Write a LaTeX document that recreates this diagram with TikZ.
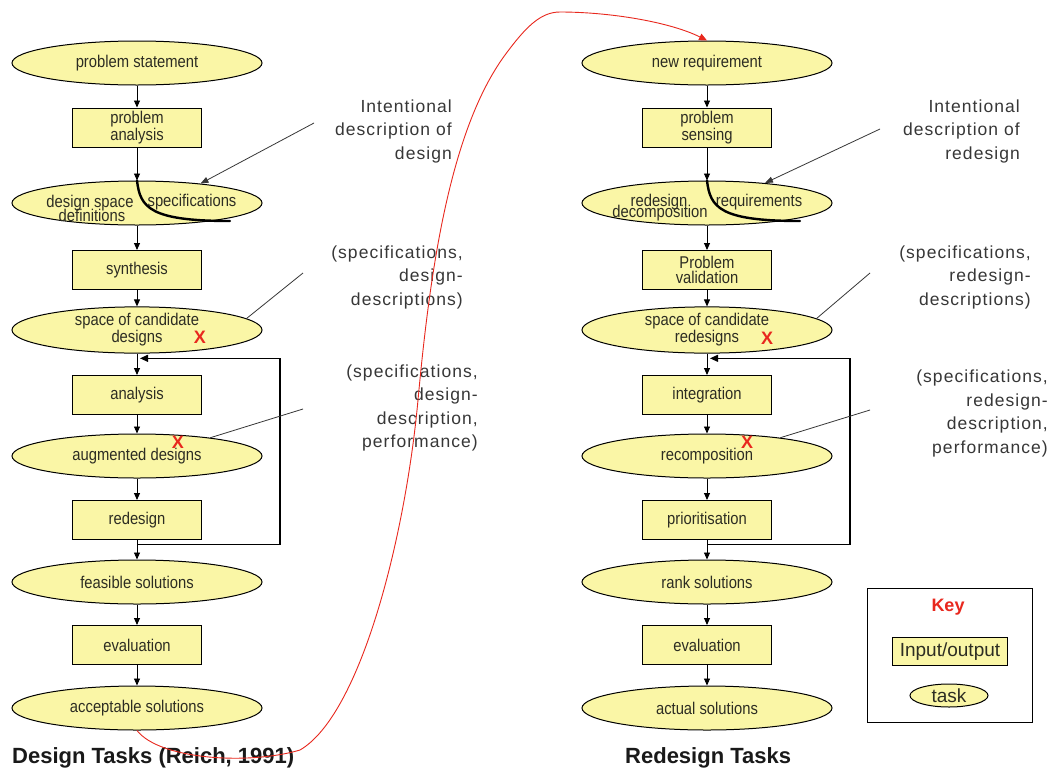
\documentclass[tikz,border=0pt]{standalone}
\usepackage{fontspec}
\setmainfont{Liberation Sans}
\newfontfamily\nodefont[FakeStretch=0.87]{Liberation Sans}
\newfontfamily\notefont[LetterSpace=6]{Liberation Sans}
\usetikzlibrary{shapes.geometric,arrows.meta,calc}
\definecolor{boxfill}{RGB}{250,246,166}
\definecolor{inktext}{RGB}{45,45,35}
\definecolor{notegray}{RGB}{55,55,55}
\definecolor{markred}{RGB}{232,40,30}

\begin{document}
\begin{tikzpicture}[x=1pt,y=-1pt,
  task/.style={ellipse, draw=black, line width=1pt, fill=boxfill,
    minimum width=250pt, minimum height=44pt, inner sep=0pt, text=inktext,
    font=\nodefont\fontsize{17}{15}\selectfont, align=center},
  io/.style={rectangle, draw=black, line width=1pt, fill=boxfill,
    minimum width=129pt, minimum height=39pt, inner sep=0pt, text=inktext,
    font=\nodefont\fontsize{17}{15}\selectfont, align=center},
  flow/.style={-{Triangle[length=7pt,width=6pt]}, line width=0.9pt, black},
  loopline/.style={-{Triangle[length=8pt,width=7pt]}, line width=1.1pt, black},
  note/.style={anchor=north east, align=right, inner sep=0pt, text=notegray,
    font=\notefont\fontsize{17.5}{23.5}\selectfont},
  pointer/.style={line width=0.8pt, notegray},
  cross/.style={text=markred, font=\bfseries\fontsize{18}{18}\selectfont, inner sep=0pt},
  lbl/.style={inner sep=0pt, text=inktext, font=\nodefont\fontsize{17}{15}\selectfont},
  title/.style={anchor=west, inner sep=0pt, font=\bfseries\fontsize{22}{26}\selectfont, text=black!90},
  thickflow/.style={line width=2.4pt, black, line cap=round}
]
\fill[white] (0,0) rectangle (1052,774);
\useasboundingbox (0,0) rectangle (1052,774);

% ---- design tasks (left column)
\node[task] (ps)   at (137,63)    {problem statement};
\node[io]   (pa)   at (137,127.5) {problem\\analysis};
\node[task] (ds)   at (137,203)   {};
\node[io]   (syn)  at (137,270)   {synthesis};
\node[task, font=\nodefont\fontsize{17}{14}\selectfont] (cand) at (137,330) {space of candidate\\designs};
\node[io]   (an)   at (137,395)   {analysis};
\node[task] (aug)  at (137,456)   {augmented designs};
\node[io]   (rd)   at (137,520)   {redesign};
\node[task] (feas) at (137,582)   {feasible solutions};
\node[io]   (ev)   at (137,645)   {evaluation};
\node[task] (acc)  at (137,708)   {acceptable solutions};

\node[lbl] (dsa) at ($(ds)+(-47,0)$)  {design space};
\node[lbl] (dsb) at ($(ds)+(-45,12)$) {definitions};
\node[lbl] (dsc) at ($(ds)+(55,-1)$)  {specifications};

% ---- redesign tasks (right column)
\node[task] (nr)    at (707,63)    {new requirement};
\node[io]   (sens)  at (707,127.5) {problem\\sensing};
\node[task] (rdc)   at (707,203)   {};
\node[io]   (val)   at (707,270)   {Problem\\validation};
\node[task, font=\nodefont\fontsize{17}{14}\selectfont] (rcand) at (707,330) {space of candidate\\redesigns};
\node[io]   (integ) at (707,395)   {integration};
\node[task] (rec)   at (707,456)   {recomposition};
\node[io]   (prio)  at (707,520)   {prioritisation};
\node[task] (rank)  at (707,582)   {rank solutions};
\node[io]   (rev)   at (707,645)   {evaluation};
\node[task] (act)   at (707,708)   {actual solutions};

\node[lbl] (rda) at ($(rdc)+(-48,-1)$) {redesign};
\node[lbl] (rdb) at ($(rdc)+(-47,10)$) {decomposition};
\node[lbl] (rdd) at ($(rdc)+(52,-1)$)  {requirements};

% ---- vertical flow arrows
\foreach \a/\b in {ps/pa, pa/ds, ds/syn, syn/cand, cand/an, an/aug, aug/rd, rd/feas, feas/ev, ev/acc,
                   nr/sens, sens/rdc, rdc/val, val/rcand, rcand/integ, integ/rec, rec/prio, prio/rank, rank/rev, rev/act}
  \draw[flow] (\a) -- (\b);

% ---- split of the flow inside the definition ellipses
\coordinate (dsend) at ($(ds)+(93,18)$);
\draw[thickflow] (ds.north) .. controls ($(ds.north)+(3,27)$) and ($(dsend)+(-80,0)$) .. (dsend);
\coordinate (rdend) at ($(rdc)+(93,18)$);
\draw[thickflow] (rdc.north) .. controls ($(rdc.north)+(3,27)$) and ($(rdend)+(-80,0)$) .. (rdend);

% ---- feedback loops
\coordinate (la) at ($(rd.south)!0.25!(feas.north)$);
\coordinate (lb) at ($(cand.south)!0.22!(an.north)+(3,0)$);
\draw[loopline] (la) -- ++(143,0) |- (lb);
\coordinate (ra) at ($(prio.south)!0.25!(rank.north)$);
\coordinate (rb) at ($(rcand.south)!0.22!(integ.north)+(3,0)$);
\draw[loopline] (ra) -- ++(143,0) |- (rb);

% ---- red crosses
\node[cross] (x1) at (200,337) {X};
\node[cross] (x2) at (178,442) {X};
\node[cross] (x3) at (767,338) {X};
\node[cross] (x4) at (747,442) {X};

% ---- annotations
\node[note] (n1) at (452,99.5)  {Intentional\\description of\\design};
\node[note] (n2) at (463,245.5) {(specifications,\\design-\\descriptions)};
\node[note] (n3) at (478,364.5) {(specifications,\\design-\\description,\\performance)};
\node[note] (n4) at (1020,99.5) {Intentional\\description of\\redesign};
\node[note] (n5) at (1031,245.5) {(specifications,\\redesign-\\descriptions)};
\node[note] (n6) at (1048,370)  {(specifications,\\redesign-\\description,\\performance)};

\coordinate (p1) at (314,123);
\draw[pointer, -{Triangle[length=8pt,width=6pt]}] (p1) -- (ds.17);
\coordinate (p2) at (303,273);
\draw[pointer] (p2) -- (cand.6.6);
\coordinate (p3) at (303,409);
\draw[pointer] (p3) -- (aug.14.6);
\coordinate (p4) at (880,129);
\draw[pointer, -{Triangle[length=8pt,width=6pt]}] (p4) -- (rdc.19);
\coordinate (p5) at (870,273);
\draw[pointer] (p5) -- (rcand.6.8);
\coordinate (p6) at (870,410);
\draw[pointer] (p6) -- (rec.14.4);

% ---- key
\node[draw=black, line width=1pt, minimum width=165pt, minimum height=134pt, inner sep=0pt] (keybox) at (949.5,655) {};
\node[text=markred, inner sep=0pt, font=\bfseries\fontsize{18}{18}\selectfont] (keyt) at (948,607) {Key};
\node[io, minimum width=115pt, minimum height=28pt, font=\fontsize{19}{19}\selectfont] (keyio) at (950,651.5) {Input/output};
\node[task, minimum width=78pt, minimum height=23pt, font=\fontsize{19}{19}\selectfont] (keytask) at (949,695.5) {task};

% ---- titles
\node[title] (t1) at (12,758)  {Design Tasks (Reich, 1991)};
\node[title] (t2) at (625,758) {Redesign Tasks};

% ---- link from design outcome to the new requirement
\draw[markred, line width=0.9pt, -{Triangle[length=8pt,width=7pt]}]
  (acc.south) .. controls (160,760) and (250,765) .. (300,750)
  .. controls (360,715) and (405,540) .. (418,400)
  .. controls (430,270) and (450,130) .. (505,55)
  .. controls (525,28) and (540,12) .. (560,12)
  .. controls (610,12) and (670,22) .. (nr.north);
\end{tikzpicture}
\end{document}
